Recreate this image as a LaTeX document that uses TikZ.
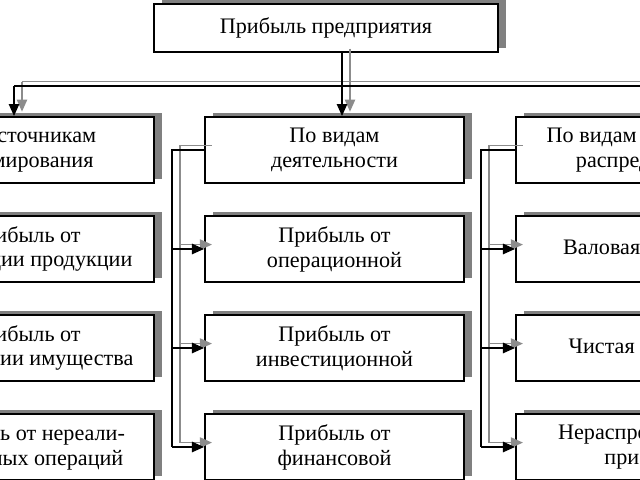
\documentclass[tikz,border=0pt]{standalone}
\usepackage{fontspec}
\setmainfont{Liberation Serif}
\usetikzlibrary{arrows.meta,shadows}
\definecolor{shadowgray}{RGB}{128,128,128}
\definecolor{wiregray}{RGB}{140,140,140}

% one set of connectors, drawn twice: shadow and line
\newcommand{\wires}[1]{%
  \draw [#1, tip] (profit.south -| drop) -- (act1.north -| drop);
  \draw [#1] (far) -- (bus);
  \draw [#1, tip] (bus) -- (bus |- src1.north);
  \draw [#1] (act1.west) -- (act1.west -| mbus) -- (act4.west -| mbus);
  \draw [#1] (use1.west) -- (use1.west -| rbus) -- (use4.west -| rbus);
  \foreach \r in {2,3,4}{
    \draw [#1, tip] (act\r.west -| mbus) -- (act\r.west);
    \draw [#1, tip] (use\r.west -| rbus) -- (use\r.west);
  }
}

\begin{document}
\begin{tikzpicture}[x=0.025cm, y=-0.025cm,
    box/.style={draw, line width=1.4pt, fill=white, align=center,
      minimum width=6.475cm, minimum height=1.65cm, inner sep=0pt,
      font=\fontsize{15.75}{17.7}\selectfont,
      drop shadow={shadow xshift=0.2cm, shadow yshift=0.1cm,
        fill=shadowgray, opacity=1}},
    wire/.style={line width=1pt, black},
    shade/.style={line width=0.8pt, wiregray},
    tip/.style={-{Triangle[length=0.3cm, width=0.26cm]}}]
  \useasboundingbox (0,0) rectangle (640,480);
  \clip (0,0) rectangle (640,480);

  % top
  \node [box, minimum width=8.6cm, minimum height=1.2cm] (profit) at (326,28) {Прибыль предприятия};

  % left column
  \node [box] (src1) at (24.5,150) {По источникам\\формирования};
  \node [box] (src2) at (24.5,249) {Прибыль от\\реализации продукции};
  \node [box] (src3) at (24.5,348) {Прибыль от\\реализации имущества};
  \node [box] (src4) at (24.5,447) {Прибыль от нереали-\\зационных операций};

  % middle column
  \node [box] (act1) at (334.5,150) {По видам\\деятельности};
  \node [box] (act2) at (334.5,249) {Прибыль от\\операционной};
  \node [box] (act3) at (334.5,348) {Прибыль от\\инвестиционной};
  \node [box] (act4) at (334.5,447) {Прибыль от\\финансовой};

  % right column
  \node [box] (use1) at (645.5,150) {По видам в процессе\\распределения};
  \node [box] (use2) at (645.5,249) {Валовая прибыль};
  \node [box] (use3) at (645.5,348) {Чистая прибыль};
  \node [box] (use4) at (645.5,447) {Нераспределенная\\прибыль};

  \coordinate (drop) at (342,0);
  \coordinate (bus) at (14,86);
  \coordinate (far) at (700,86);
  \coordinate (mbus) at (172,0);
  \coordinate (rbus) at (481,0);

  \begin{scope}[transform canvas={xshift=0.2cm, yshift=0.11cm}]
    \wires{shade}
  \end{scope}
  \wires{wire}
\end{tikzpicture}
\end{document}
